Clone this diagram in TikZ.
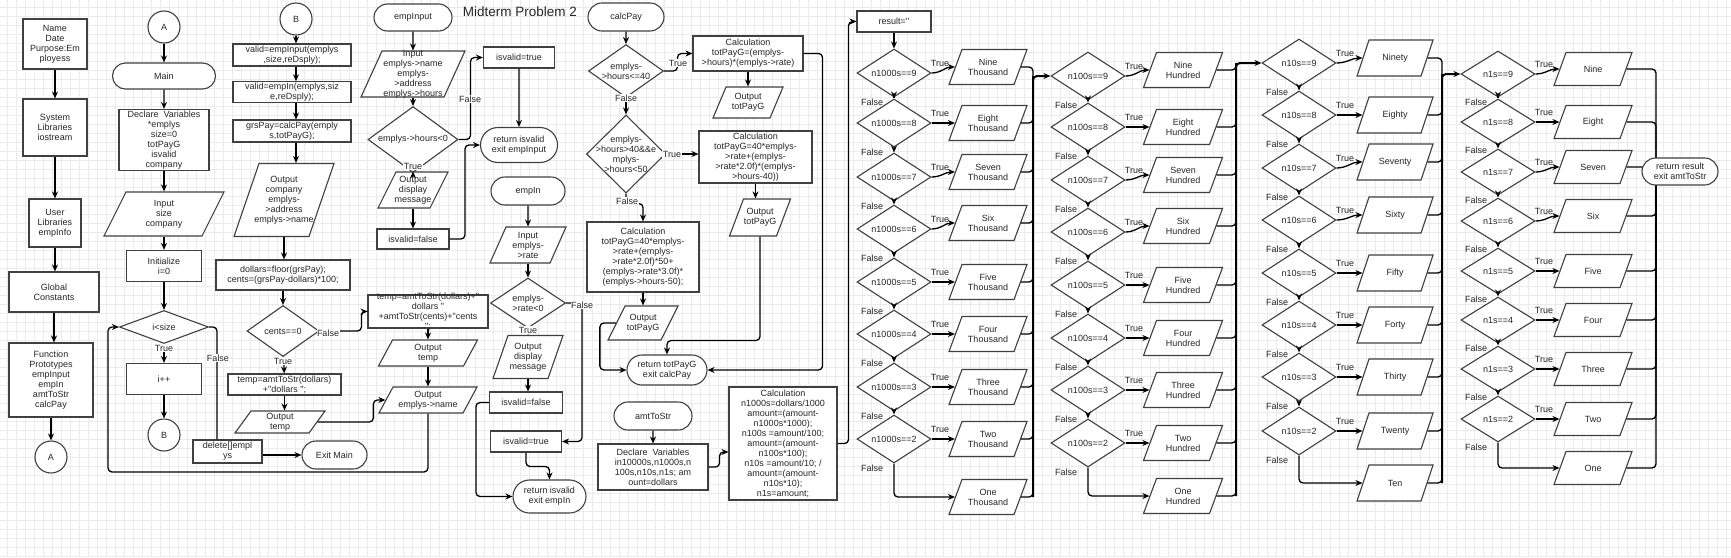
\documentclass[tikz,border=0pt]{standalone}
\usepackage{fontspec}
\newfontfamily\chartfont{Liberation Sans}
\usetikzlibrary{arrows.meta,
	calc,
	positioning,
	shapes.geometric,
	shapes.misc}

\tikzset{
	shapebase/.style={draw=black!75, line width=1.1pt, fill=white, text=black!85,
		font=\chartfont\fontsize{9}{10}\selectfont, align=center, inner sep=1pt},
	procbox/.style={shapebase, rectangle},
	termbox/.style={shapebase, rounded rectangle},
	iogeo/.code n args={3}{%
		\pgfmathsetmacro\ioxsep{(#1-2*#3)/2}%
		\pgfmathsetmacro\ioysep{#2/2}%
		\pgfmathsetmacro\ioang{atan(#2/#3)}%
		\pgfmathsetmacro\ioangb{180-\ioang}%
		\edef\iokeys{inner xsep=\ioxsep pt, inner ysep=\ioysep pt,
			trapezium left angle=\ioang, trapezium right angle=\ioangb}%
		\expandafter\pgfkeysalso\expandafter{\iokeys}},
	iobox/.style n args={3}{shapebase, trapezium, iogeo={#1}{#2}{#3}},
	iolabel/.style={font=\chartfont\fontsize{9}{10}\selectfont, text=black!85, align=center, inner sep=0pt},
	iotext/.style={label={[iolabel]center:{#1}}},
	decbox/.style={shapebase, diamond, inner sep=-3pt},
	jumpbox/.style={shapebase, circle, minimum size=32pt},
	flow/.style={draw=black, line width=1.3pt, rounded corners=4pt, -{Stealth[length=7pt,width=6pt]}},
	bigflow/.style={flow, line width=2pt},
	mergeline/.style={draw=black, line width=1.3pt, rounded corners=4pt},
	edgetxt/.style={font=\chartfont\fontsize{9}{10}\selectfont, text=black!85, fill=white, inner sep=0.5pt},
	sidetxt/.style={font=\chartfont\fontsize{9}{10}\selectfont, text=black!85, inner sep=0pt},
	gridline/.style={draw=black!8, line width=0.5pt},
	sz/.style 2 args={minimum width=#1pt, minimum height=#2pt},
}

\begin{document}
\begin{tikzpicture}[x=1pt, y=-1pt]
\useasboundingbox (0,0) rectangle (1731,557);
\fill[white] (0,0) rectangle (1731,557);
%grid
\foreach \gx in {7,16,...,1731} {\draw[gridline] (\gx,0) -- (\gx,557);}
\foreach \gy in {7,16,...,557} {\draw[gridline] (0,\gy) -- (1731,\gy);}

\node[font=\chartfont\fontsize{13.5}{16}\selectfont, text=black!85] (title) at (520,12) {Midterm Problem 2};

%header column
\node[procbox, sz={64}{50}] (hdr) at (55,44) {Name\\Date\\Purpose:Em\\ployess};
\node[procbox, sz={64}{57}] (sys) at (55,127.5) {System\\Libraries\\iostream};
\node[procbox, sz={52}{48}] (usr) at (55,223) {User\\Libraries\\empInfo};
\node[procbox, sz={90}{40}] (glob) at (54,292) {Global\\Constants};
\node[procbox, sz={84}{74}] (proto) at (51,380) {Function\\Prototypes\\empInput\\empIn\\amtToStr\\calcPay};
\node[jumpbox] (jA2) at (51,457) {A};

%main
\node[jumpbox] (jA) at (164,27) {A};
\node[termbox, sz={105}{26}] (mMain) at (164,76) {Main};
\node[procbox, sz={90}{61}, inner ysep=0pt] (mDecl) at (164,140) {Declare\ \ Variables\\{}*emplys\\size=0\\totPayG\\isvalid\\company};
\node[iobox={120}{44}{22}, iotext={Input\\size\\company}] (mIn) at (164,214) {};
\node[procbox, sz={75}{31}] (mInit) at (164,266) {Initialize\\i=0};
\node[decbox, sz={89}{33}] (mLoop) at (164,327) {i<size};
\node[procbox, sz={75}{31}] (mInc) at (164,379) {i++};
\node[jumpbox] (jB) at (164,435) {B};
\node[procbox, sz={69}{23}] (mDel) at (227.5,451.5) {delete[]empl\\ys};
\node[termbox, sz={67}{28}] (mExit) at (334.5,455) {Exit Main};
\coordinate (loopc) at (108,472);

%main, part B
\node[jumpbox] (jB2) at (296,19) {B};
\node[procbox, sz={118}{22}] (v1) at (292,55) {valid=empInput(emplys\\,size,reDsply);};
\node[procbox, sz={118}{20}] (v2) at (292,92) {valid=empIn(emplys,siz\\e,reDsply);};
\node[procbox, sz={118}{22}] (v3) at (292,131) {grsPay=calcPay(emply\\s,totPayG);};
\node[iobox={100}{73}{25}, iotext={Output\\company\\emplys-\\>address\\emplys->name}] (oComp) at (284,200) {};
\node[procbox, sz={134}{30}] (dol) at (283,275) {dollars=floor(grsPay);\\cents=(grsPay-dollars)*100;};
\node[decbox, sz={72}{51}] (dCents) at (283,331) {cents==0};
\node[procbox, sz={113}{21}] (tmp1) at (284.5,384.5) {temp=amtToStr(dollars)\\+"dollars ";};
\node[iobox={90}{22}{16}, iotext={Output\\temp}] (oTmp1) at (280,422) {};
\node[procbox, sz={120}{33}, inner ysep=-4pt] (tmp2) at (428,311.5) {temp=amtToStr(dollars)+"\\dollars "\\+amtToStr(cents)+"cents\\";};
\node[iobox={99}{26}{14}, iotext={Output\\temp}] (oTmp2) at (428,353) {};
\node[iobox={98}{26}{14}, iotext={Output\\emplys->name}] (oName) at (428,400) {};

%empInput
\node[termbox, sz={80}{27}] (tEI) at (413,17.5) {empInput};
\node[iobox={104}{46}{21}, iotext={Input\\emplys->name\\emplys-\\>address\\emplys->hours}] (iEI) at (413,74) {};
\node[decbox, sz={90}{47}] (dEI) at (413,139.5) {emplys->hours<0};
\node[iobox={70}{36}{18}, iotext={Output\\display\\message}] (oEI) at (413,190) {};
\node[procbox, sz={72}{20}] (fEI) at (413,239) {isvalid=false};
\node[procbox, sz={71}{21}] (tvEI) at (519,57.5) {isvalid=true};
\node[termbox, sz={79}{35}] (rEI) at (519,145) {return isvalid\\exit empInput};

%empIn
\node[termbox, sz={76}{28}] (tEn) at (528,191) {empIn};
\node[iobox={76}{36}{16}, iotext={Input\\emplys-\\>rate}] (iEn) at (528,245) {};
\node[decbox, sz={75}{50}] (dEn) at (528,303) {emplys-\\>rate<0};
\node[iobox={70}{43}{15}, iotext={Output\\display\\message}] (oEn) at (528,357) {};
\node[procbox, sz={73}{21}] (fEn) at (526,402.5) {isvalid=false};
\node[procbox, sz={71}{21}] (tvEn) at (526,441.5) {isvalid=true};
\node[termbox, sz={75}{33}] (rEn) at (549.5,496.5) {return isvalid\\exit empIn};

%calcPay
\node[termbox, sz={78}{28}] (tCP) at (626,17) {calcPay};
\node[decbox, sz={75}{46}] (dCP1) at (626,71) {emplys-\\>hours<=40};
\node[procbox, sz={110}{35}] (cCP1) at (748,53.5) {Calculation\\totPayG=(emplys-\\>hours)*(emplys->rate)};
\node[iobox={70}{31}{13}, iotext={Output\\totPayG}] (oCP1) at (748,102.5) {};
\node[decbox, sz={79}{78}, inner sep=-10pt] (dCP2) at (626,154) {emplys-\\>hours>40\&\&e\\mplys-\\>hours<50};
\node[procbox, sz={113}{52}] (cCP2) at (755.5,157) {Calculation\\totPayG=40*emplys-\\>rate+(emplys-\\>rate*2.0f)*(emplys-\\>hours-40))};
\node[iobox={61}{37}{14}, iotext={Output\\totPayG}] (oCP2) at (760,217.5) {};
\node[procbox, sz={112}{70}] (cCP3) at (643,257) {Calculation\\totPayG=40*emplys-\\>rate+(emplys-\\>rate*2.0f)*50+\\(emplys->rate*3.0f)*\\(emplys->hours-50);};
\node[iobox={70}{34}{17}, iotext={Output\\totPayG}] (oCP3) at (643,323) {};
\node[termbox, sz={82}{30}] (rCP) at (667,370) {return totPayG\\exit calcPay};

%amtToStr
\node[termbox, sz={80}{28}] (tAS) at (653,416) {amtToStr};
\node[procbox, sz={110}{46}] (dAS) at (653,467) {Declare\ \ Variables\\in10000s,n1000s,n\\100s,n10s,n1s;\ am\\ount=dollars};
\node[procbox, sz={108}{113}, inner ysep=0pt] (cAS) at (783,443.5) {Calculation\\n1000s=dollars/1000\\amount=(amount-\\n1000s*1000);\\n100s =amount/100;\\amount=(amount-\\n100s*100);\\n10s =amount/10; /\\amount=(amount-\\n10s*10);\\n1s=amount;};
\node[procbox, sz={74}{21}] (res) at (894,21.5) {result=''};

%thousands
\coordinate (kjoin) at (1033,76);
\foreach \n/\dy/\py/\w in {9/73/67/Nine,8/123/123/Eight,7/177/172/Seven,6/229/223/Six,5/282/282/Five,4/334/334/Four,3/387/387/Three,2/439/439/Two}{
	\node[decbox, sz={74}{48}] (kd\n) at (894,\dy) {n1000s==\n};
	\node[iobox={78}{35}{13}, iotext={\w\\Thousand}] (kp\n) at (988,\py) {};
	\draw[flow] (kd\n.east) to[out=0,in=180] (kp\n.left side);
	\draw[mergeline] (kp\n.right side) -| (kjoin);
	\node[sidetxt] (kt\n) at (940,\dy-10) {True};
	\node[sidetxt] (kf\n) at (872,\dy+29) {False};
}
\node[iobox={78}{35}{13}, iotext={One\\Thousand}] (kp1) at (988,497) {};
\draw[flow] (kd2.south) |- (kp1.left side);
\draw[mergeline] (kp1.right side) -| (kjoin);
\foreach \n [evaluate=\n as \m using int(\n-1)] in {9,...,3} {\draw[flow] (kd\n.south) -- (kd\m.north);}

%hundreds
\coordinate (hjoin) at (1236,63);
\foreach \n/\dy/\py/\w in {9/76/70/Nine,8/127/127/Eight,7/180/175/Seven,6/232/226/Six,5/285/285/Five,4/338/338/Four,3/390/390/Three,2/443/443/Two}{
	\node[decbox, sz={74}{48}] (hd\n) at (1088,\dy) {n100s==\n};
	\node[iobox={79}{35}{13}, iotext={\w\\Hundred}] (hp\n) at (1183,\py) {};
	\draw[flow] (hd\n.east) to[out=0,in=180] (hp\n.left side);
	\draw[mergeline] (hp\n.right side) -| (hjoin);
	\node[sidetxt] (ht\n) at (1134,\dy-10) {True};
	\node[sidetxt] (hf\n) at (1066,\dy+29) {False};
}
\node[iobox={79}{35}{13}, iotext={One\\Hundred}] (hp1) at (1183,496) {};
\draw[flow] (hd2.south) |- (hp1.left side);
\draw[mergeline] (hp1.right side) -| (hjoin);
\foreach \n [evaluate=\n as \m using int(\n-1)] in {9,...,3} {\draw[flow] (hd\n.south) -- (hd\m.north);}
\draw[bigflow] (kjoin |- kp1.right side) -- (kjoin) -- (hd9.west);

%tens
\coordinate (tjoin) at (1442,74);
\foreach \n/\dy/\py/\w in {9/63/58/Ninety,8/115/115/Eighty,7/168/162/Seventy,6/220/215/Sixty,5/273/273/Fifty,4/325/325/Forty,3/377/377/Thirty,2/431/431/Twenty}{
	\node[decbox, sz={74}{48}] (td\n) at (1299,\dy) {n10s==\n};
	\node[iobox={76}{36}{12}, iotext={\w}] (tp\n) at (1395,\py) {};
	\draw[flow] (td\n.east) to[out=0,in=180] (tp\n.left side);
	\draw[mergeline] (tp\n.right side) -| (tjoin);
	\node[sidetxt] (tt\n) at (1345,\dy-10) {True};
	\node[sidetxt] (tf\n) at (1277,\dy+29) {False};
}
\node[iobox={76}{36}{12}, iotext={Ten}] (tp1) at (1395,483) {};
\draw[flow] (td2.south) |- (tp1.left side);
\draw[mergeline] (tp1.right side) -| (tjoin);
\foreach \n [evaluate=\n as \m using int(\n-1)] in {9,...,3} {\draw[flow] (td\n.south) -- (td\m.north);}
\draw[bigflow] (hjoin |- hp1.right side) -- (hjoin) -- (td9.west);

%ones
\coordinate (ojoin) at (1656,171.5);
\foreach \n/\dy/\py/\w in {9/74/69/Nine,8/122/122/Eight,7/172/167/Seven,6/221/216/Six,5/271/271/Five,4/320/320/Four,3/369/369/Three,2/419/419/Two}{
	\node[decbox, sz={74}{46}] (od\n) at (1498,\dy) {n1s==\n};
	\node[iobox={78}{33}{12}, iotext={\w}] (op\n) at (1593,\py) {};
	\draw[flow] (od\n.east) to[out=0,in=180] (op\n.left side);
	\draw[mergeline] (op\n.right side) -| (ojoin);
	\node[sidetxt] (ot\n) at (1544,\dy-10) {True};
	\node[sidetxt] (of\n) at (1476,\dy+28) {False};
}
\node[iobox={78}{33}{12}, iotext={One}] (op1) at (1593,468) {};
\draw[flow] (od2.south) |- (op1.left side);
\draw[mergeline] (op1.right side) -| (ojoin);
\foreach \n [evaluate=\n as \m using int(\n-1)] in {9,...,3} {\draw[flow] (od\n.south) -- (od\m.north);}
\draw[bigflow] (tjoin |- tp1.right side) -- (tjoin) -- (od9.west);
\node[termbox, sz={78}{27}] (rRes) at (1680,171.5) {return result\\exit amtToStr};

%connectors, start
\draw[flow] (hdr) -- (sys);
\draw[flow] (sys) -- (usr);
\draw[flow] (usr.south) -- (usr.south |- glob.north);
\draw[flow] (glob.south) -- (glob.south |- proto.north);
\draw[flow] (proto) -- (jA2);

%connectors, main
\draw[flow] (jA) -- (mMain);
\draw[flow] (mMain) -- (mDecl);
\draw[flow] (mDecl) -- (mIn);
\draw[flow] (mIn) -- (mInit);
\draw[flow] (mInit) -- (mLoop);
\draw[flow] (mLoop) -- (mInc);
\draw[flow] (mInc) -- (jB);
\draw[mergeline] (mLoop.east) -| ([xshift=-10.5pt]mDel.north);
\draw[flow] (mDel.east |- mExit.west) -- (mExit.west);
\draw[flow] (oName.south) |- (loopc) |- (mLoop.west);

\draw[flow] (jB2.south) -- (jB2.south |- v1.north);
\draw[flow] (v1.south -| jB2.south) -- (v2.north -| jB2.south);
\draw[flow] (v2.south -| jB2.south) -- (v3.north -| jB2.south);
\draw[flow] (v3.south -| jB2.south) -- (oComp.north -| jB2.south);
\draw[flow] (oComp.south) -- (oComp.south |- dol.north);
\draw[flow] (dol) -- (dCents);
\draw[flow] (dCents) -- (tmp1);
\draw[flow] (tmp1.south) -- (tmp1.south |- oTmp1.north);
\draw[flow] (dCents.east) -| ([xshift=-6pt]tmp2.west) -- (tmp2.west);
\draw[flow] (tmp2) -- (oTmp2);
\draw[flow] (oTmp2) -- (oName);
\draw[flow] (oTmp1.right side) -| ([xshift=-12pt]oName.left side) -- (oName.left side);

%connectors, empInput
\draw[flow] (tEI) -- (iEI);
\draw[flow] (iEI) -- (dEI);
\draw[flow] (dEI) -- (oEI);
\draw[flow] (oEI) -- (fEI);
\draw[flow] (dEI.east) -| ([xshift=-12.5pt]tvEI.west) -- (tvEI.west);
\draw[flow] (tvEI) -- (rEI);
\draw[flow] (fEI.east) -| ([xshift=-15pt]rEI.west) -- (rEI.west);

%connectors, empIn
\draw[flow] (tEn) -- (iEn);
\draw[flow] (iEn) -- (dEn);
\draw[flow] (dEn) -- (oEn);
\draw[flow] (oEn.south) -- (oEn.south |- fEn.north);
\draw[flow] (dEn.east) -| ([xshift=20pt]tvEn.east) -- (tvEn.east);
\draw[flow] (fEn.west) -- ++(-13,0) |- (rEn.west);
\draw[flow] (tvEn.south) -- ++(0,14) -| (rEn.north);

%connectors, calcPay
\draw[flow] (tCP) -- (dCP1);
\draw[flow] (dCP1.east) -| ([xshift=-15pt]cCP1.west) -- (cCP1.west);
\draw[flow] (cCP1) -- (oCP1);
\draw[flow] (dCP1) -- (dCP2);
\draw[flow] (dCP2.east) -- (dCP2.east -| cCP2.west);
\draw[flow] (cCP2.south) -- (cCP2.south |- oCP2.north);
\draw[flow] (dCP2.south) -- ++(0,10) -| (cCP3.north);
\draw[flow] (cCP3) -- (oCP3);
\draw[flow] (oCP3.left side) -- ++(-16,0) |- (rCP.west);
\draw[flow] (oCP2.south) -- ++(0,104) -| (rCP.north);
\draw[flow] (cCP1.east) -- ++(19,0) |- (rCP.east);

%connectors, amtToStr
\draw[flow] (tAS) -- (dAS);
\draw[flow] (dAS.east) -- ++(11,0) |- ($(cAS.west)+(0,8.5)$);
\draw[flow] (cAS.east) -- ++(11,0) |- (res.west);
\draw[flow] (res) -- (kd9);

%labels
\node[edgetxt] (lT1) at (164,348) {True};
\node[edgetxt] (lF1) at (218,358) {False};
\node[edgetxt] (lT2) at (283,361) {True};
\node[edgetxt] (lF2) at (328,333) {False};
\node[edgetxt] (lT3) at (413,166) {True};
\node[edgetxt] (lF3) at (470,99) {False};
\node[edgetxt] (lT4) at (528,330) {True};
\node[edgetxt] (lF4) at (582,305) {False};
\node[edgetxt] (lT5) at (678,63) {True};
\node[edgetxt] (lF5) at (626,98) {False};
\node[edgetxt] (lT6) at (672,154) {True};
\node[edgetxt] (lF6) at (627,201) {False};

\end{tikzpicture}
\end{document}
